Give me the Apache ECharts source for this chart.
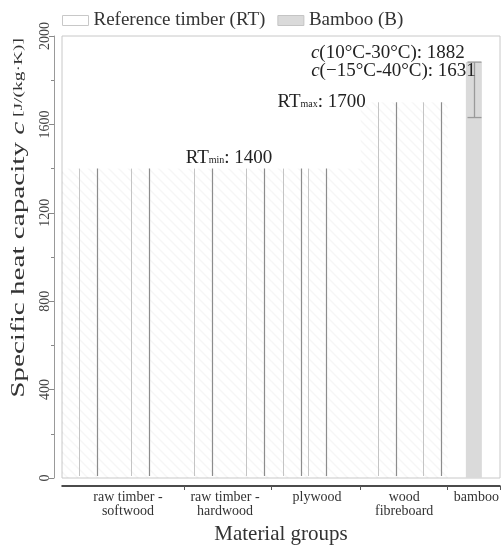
<!DOCTYPE html>
<html>
<head>
<meta charset="utf-8">
<script src="https://cdn.jsdelivr.net/npm/echarts@6/dist/echarts.min.js"></script>
<style>html,body{margin:0;padding:0;background:#fff;}#chart{width:502px;height:551px;}</style>
</head>
<body>
<div id="chart"></div>
<script>
// ---- data ----
const groupLabels = ['raw timber -\nsoftwood', 'raw timber -\nhardwood', 'plywood', 'wood\nfibreboard', 'bamboo'];
const legendNames = ['Reference timber (RT)', 'Bamboo (B)'];
const rtValues = [1400, 1400, 1400, 1400, 1400, 1400, 1700, 1700];
const rtMin = 1400;
const rtMax = 1700;
const groupRT = [1400, 1400, 1400, 1700];
const bambooMean = 1882;
const bambooLow = 1631;
const yTicks = [0, 400, 800, 1200, 1600, 2000];

// ---- layout slots on the category axis ----
const slotCount = 176;
const slots = Array.from({length: slotCount}, (_, i) => String(i));
const rtSlot = [10, 31, 56, 77, 92, 102, 130, 148];
const groupStart = [0, 49, 84, 120, 155];
const groupEnd = [49, 84, 120, 155, 176];
const labelSlot = [26, 65, 102, 137, 166];
const bambooSlot = 165;

const serif = '"Liberation Serif", "Times New Roman", serif';

// hatch pattern
const pc = document.createElement('canvas');
pc.width = 10; pc.height = 10;
const g = pc.getContext('2d');
g.strokeStyle = 'rgba(0,0,0,0.035)';
g.lineWidth = 1.5;
g.beginPath();
g.moveTo(-1, -1); g.lineTo(11, 11);
g.moveTo(-6, 4); g.lineTo(6, 16);
g.moveTo(4, -6); g.lineTo(16, 6);
g.stroke();

const chart = echarts.init(document.getElementById('chart'));
const rtData = rtValues.map((v, i) => [rtSlot[i], v]);
const hatchData = groupRT.map((v, i) => [groupStart[i], groupEnd[i], v]);

chart.setOption({
  animation: false,
  grid: {left: 62, right: 2, top: 36, bottom: 73, show: true, borderColor: '#c8c8c8', borderWidth: 1},
  legend: {
    left: 62, top: 11, padding: 0, itemWidth: 26, itemHeight: 10, itemGap: 12,
    textStyle: {fontFamily: serif, fontSize: 19, color: '#333'},
    data: [
      {name: legendNames[0], icon: 'rect', itemStyle: {color: '#fff', borderColor: '#c8c8c8', borderWidth: 1}},
      {name: legendNames[1], icon: 'rect', itemStyle: {color: '#dadada', borderColor: '#c4c4c4', borderWidth: 1}}
    ]
  },
  xAxis: {
    type: 'category', data: slots, boundaryGap: true, offset: 8,
    axisLine: {onZero: false, lineStyle: {color: '#111', width: 1.5}},
    axisTick: {show: true, interval: (i) => groupStart.indexOf(i) > 0, length: 4, lineStyle: {color: '#555'}},
    axisLabel: {
      interval: (i) => labelSlot.indexOf(i) >= 0,
      formatter: (v, i) => { const k = labelSlot.indexOf(i); return k >= 0 ? groupLabels[k] : ''; },
      margin: 4, fontFamily: serif, fontSize: 14, lineHeight: 14, color: '#333'
    },
    name: 'Material groups', nameLocation: 'middle', nameGap: 38,
    nameTextStyle: {fontFamily: serif, fontSize: 21, color: '#333'}
  },
  yAxis: {
    type: 'value', min: 0, max: 2000, interval: 400, offset: 8,
    axisLine: {show: true, lineStyle: {color: '#999'}},
    axisTick: {show: true, length: 5, lineStyle: {color: '#888'}},
    minorTick: {show: true, splitNumber: 2, length: 3, lineStyle: {color: '#888'}},
    splitLine: {show: false},
    axisLabel: {rotate: 90, margin: 2, fontFamily: serif, fontSize: 14, color: '#444',
      formatter: (v) => yTicks.indexOf(v) >= 0 ? String(v) : ''}
  },
  graphic: [{
    type: 'text', x: 19, y: 218, rotation: Math.PI / 2, scaleX: 1.62, scaleY: 1.05,
    style: {
      text: '{a|Specific heat capacity }{i|c}{u| [J/(kg·K)]}',
      align: 'center', verticalAlign: 'middle',
      rich: {
        a: {fontFamily: serif, fontSize: 18, fill: '#333'},
        i: {fontFamily: serif, fontSize: 18, fontStyle: 'italic', fill: '#333'},
        u: {fontFamily: serif, fontSize: 12, fill: '#333'}
      }
    }
  }],
  series: [
    {
      type: 'custom', name: 'hatch', silent: true, z: 1,
      encode: {x: [0, 1], y: 2},
      data: hatchData,
      renderItem: (params, api) => {
        const band = api.size([1, 0])[0];
        const p0 = api.coord([api.value(0), api.value(2)]);
        const p1 = api.coord([api.value(1), 0]);
        const x0 = p0[0] - band / 2, x1 = p1[0] - band / 2;
        return {type: 'rect', shape: {x: x0, y: p0[1], width: x1 - x0, height: p1[1] - p0[1]},
          style: {fill: {image: pc, repeat: 'repeat'}}};
      }
    },
    {
      type: 'custom', name: legendNames[0], z: 3,
      encode: {x: 0, y: 1},
      data: rtData,
      renderItem: (params, api) => {
        const top = api.coord([api.value(0), api.value(1)]);
        const base = api.coord([api.value(0), 0]);
        const hw = 9;
        return {type: 'group', children: [
          {type: 'line', shape: {x1: Math.round(top[0] - hw) + 0.5, y1: top[1], x2: Math.round(top[0] - hw) + 0.5, y2: base[1] - 2}, style: {stroke: '#c4c4c4', lineWidth: 1}},
          {type: 'line', shape: {x1: Math.round(top[0] + hw) + 0.5, y1: top[1], x2: Math.round(top[0] + hw) + 0.5, y2: base[1] - 2}, style: {stroke: '#8c8c8c', lineWidth: 1.2}}
        ]};
      },
      markPoint: {
        symbol: 'circle', symbolSize: 1, silent: true, itemStyle: {color: 'rgba(0,0,0,0)'},
        label: {show: true, position: 'inside', color: '#222', fontFamily: serif, fontSize: 19,
          rich: {b: {fontFamily: serif, fontSize: 19, color: '#222'}, s: {fontFamily: serif, fontSize: 10, color: '#222', verticalAlign: 'bottom', padding: [0, 0, 2, 0]}}},
        data: [
          {coord: [labelSlot[1], rtMin], label: {formatter: '{b|RT}{s|min}{b|: ' + rtMin + '}', align: 'center', verticalAlign: 'middle', offset: [4, -11]}},
          {coord: [rtSlot[6], rtMax], label: {formatter: '{b|RT}{s|max}{b|: ' + rtMax + '}', align: 'right', verticalAlign: 'middle', offset: [-21, 0]}}
        ]
      }
    },
    {
      type: 'bar', name: legendNames[1], z: 2, barWidth: 16,
      itemStyle: {color: '#dadada'},
      data: [[bambooSlot, bambooMean]],
      markPoint: {
        symbol: 'circle', symbolSize: 1, silent: true, itemStyle: {color: 'rgba(0,0,0,0)'},
        label: {show: true, position: 'inside', color: '#222', fontFamily: serif, fontSize: 19,
          rich: {i: {fontFamily: serif, fontSize: 19, fontStyle: 'italic', color: '#222'}, n: {fontFamily: serif, fontSize: 19, color: '#222'}}},
        data: [
          {coord: [bambooSlot, bambooMean], label: {formatter: '{i|c}{n|(10°C-30°C): ' + bambooMean + '}', align: 'right', verticalAlign: 'middle', offset: [-9, -9]}},
          {coord: [bambooSlot, bambooMean], label: {formatter: '{i|c}{n|(−15°C-40°C): ' + bambooLow + '}', align: 'right', verticalAlign: 'middle', offset: [2, 9]}}
        ]
      }
    },
    {
      type: 'custom', name: 'bamboo range', z: 4, silent: true,
      encode: {x: 0, y: [1, 2]},
      data: [[bambooSlot, bambooLow, bambooMean]],
      renderItem: (params, api) => {
        const lo = api.coord([api.value(0), api.value(1)]);
        const hi = api.coord([api.value(0), api.value(2)]);
        const x = Math.round(lo[0]) + 0.5, cw = 7;
        const st = {stroke: '#9a9a9a', lineWidth: 1.3};
        return {type: 'group', children: [
          {type: 'line', shape: {x1: x, y1: lo[1], x2: x, y2: hi[1]}, style: st},
          {type: 'line', shape: {x1: x - cw, y1: lo[1], x2: x + cw, y2: lo[1]}, style: st},
          {type: 'line', shape: {x1: x - cw, y1: hi[1], x2: x + cw, y2: hi[1]}, style: st}
        ]};
      }
    }
  ]
});
</script>
</body>
</html>
